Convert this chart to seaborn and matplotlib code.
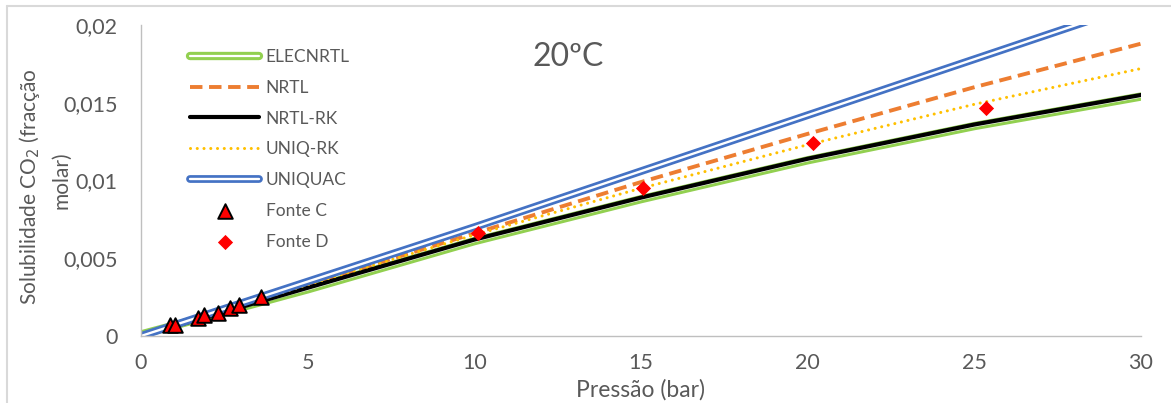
import matplotlib
matplotlib.use("Agg")
import matplotlib.pyplot as plt
import matplotlib.patheffects as pe
from matplotlib.ticker import FuncFormatter, MultipleLocator
import seaborn as sns

# curvas dos modelos
pressao_modelo = [0, 5, 10, 15, 20, 25, 30]
elecnrtl = [0.0001, 0.0030, 0.0061, 0.0088, 0.0113, 0.0135, 0.0154]
nrtl = [0.0, 0.0033, 0.0066, 0.0099, 0.0130, 0.0160, 0.0188]
nrtl_rk = [0.0, 0.0031, 0.0062, 0.0089, 0.0114, 0.0136, 0.0155]
uniq_rk = [0.0, 0.0033, 0.0065, 0.0095, 0.0123, 0.0149, 0.0172]
uniquac = [0.0, 0.0035, 0.0070, 0.0106, 0.0142, 0.0178, 0.0214]

# dados experimentais
pressao_c = [0.87, 1.02, 1.71, 1.89, 2.31, 2.67, 2.93, 3.60]
sol_c = [0.00071, 0.00071, 0.00116, 0.00132, 0.00151, 0.0018, 0.0020, 0.00248]
pressao_d = [10.11, 15.07, 20.17, 25.35]
sol_d = [0.0066, 0.0095, 0.01243, 0.01466]

sns.set_style("white")
plt.rcParams["font.family"] = ["Lato", "DejaVu Sans"]
GREY = "#595959"

fig = plt.figure(figsize=(11.71, 4.03), dpi=100)
ax = fig.add_axes([141 / 1171, 67 / 403, 1000 / 1171, 311 / 403])

# ELECNRTL: linha dupla verde
sns.lineplot(x=pressao_modelo, y=elecnrtl, ax=ax, color="white", lw=1.6,
             label="ELECNRTL",
             path_effects=[pe.Stroke(linewidth=6.0, foreground="#92D050"), pe.Normal()])
sns.lineplot(x=pressao_modelo, y=nrtl, ax=ax, color="#ED7D31", lw=2.8,
             label="NRTL", linestyle=(0, (3.2, 1.7)))
sns.lineplot(x=pressao_modelo, y=nrtl_rk, ax=ax, color="black", lw=3.0,
             label="NRTL-RK")
sns.lineplot(x=pressao_modelo, y=uniq_rk, ax=ax, color="#FFC000", lw=2.2,
             label="UNIQ-RK", linestyle=(0, (0.01, 2.2)), dash_capstyle="round")
# UNIQUAC: linha dupla azul
sns.lineplot(x=pressao_modelo, y=uniquac, ax=ax, color="white", lw=1.7,
             label="UNIQUAC",
             path_effects=[pe.Stroke(linewidth=5.6, foreground="#4472C4"), pe.Normal()])

sns.scatterplot(x=pressao_c, y=sol_c, ax=ax, marker="^", s=110, color="#FF0000",
                edgecolor="black", linewidth=1.4, label="Fonte C", zorder=5)
sns.scatterplot(x=pressao_d, y=sol_d, ax=ax, marker="D", s=60, color="#FF0000",
                edgecolor="#FF0000", linewidth=0, label="Fonte D", zorder=5)

ax.set_xlim(0, 30)
ax.set_ylim(0, 0.02)
ax.xaxis.set_major_locator(MultipleLocator(5))
ax.yaxis.set_major_locator(MultipleLocator(0.005))
ax.yaxis.set_major_formatter(FuncFormatter(lambda v, p: f"{v:g}".replace(".", ",")))
ax.tick_params(axis="both", length=0, labelsize=15.5, labelcolor=GREY)
ax.tick_params(axis="x", pad=12)
ax.tick_params(axis="y", pad=17)
for s in ["top", "right"]:
    ax.spines[s].set_visible(False)
for s in ["left", "bottom"]:
    ax.spines[s].set_color("#BFBFBF")
    ax.spines[s].set_linewidth(1.0)
ax.set_xlabel("")
ax.set_ylabel("")

fig.text(640 / 1171, 1 - 390 / 403, "Pressão (bar)", ha="center", va="center",
         fontsize=16.5, color=GREY)
# titulo do eixo y em duas linhas
fig.text(30 / 1171, 1 - 187 / 403, "Solubilidade CO$_2$ (fracção",
         rotation=90, ha="center", va="center", fontsize=15, color=GREY)
fig.text(61 / 1171, 1 - 180 / 403, "molar)",
         rotation=90, ha="center", va="center", fontsize=15, color=GREY)
fig.text(568 / 1171, 1 - 57 / 403, "20ºC", ha="center", va="center",
         fontsize=23, color=GREY)

leg = ax.legend(loc="upper left", bbox_to_anchor=(190 / 1171, 1 - 49 / 403),
                bbox_transform=fig.transFigure, frameon=False, fontsize=12.5,
                handlelength=4.0, handletextpad=0.35, labelspacing=0.85,
                borderpad=0, borderaxespad=0)
for t in leg.get_texts():
    t.set_color(GREY)

# moldura do grafico
fig.add_artist(plt.Line2D([7 / 1171, 7 / 1171], [0, 1 - 6 / 403],
                          transform=fig.transFigure, color="#D9D9D9", lw=1.5))
fig.add_artist(plt.Line2D([7 / 1171, 1], [1 - 6 / 403, 1 - 6 / 403],
                          transform=fig.transFigure, color="#D9D9D9", lw=1.5))

fig.savefig("out.png", dpi=100)
